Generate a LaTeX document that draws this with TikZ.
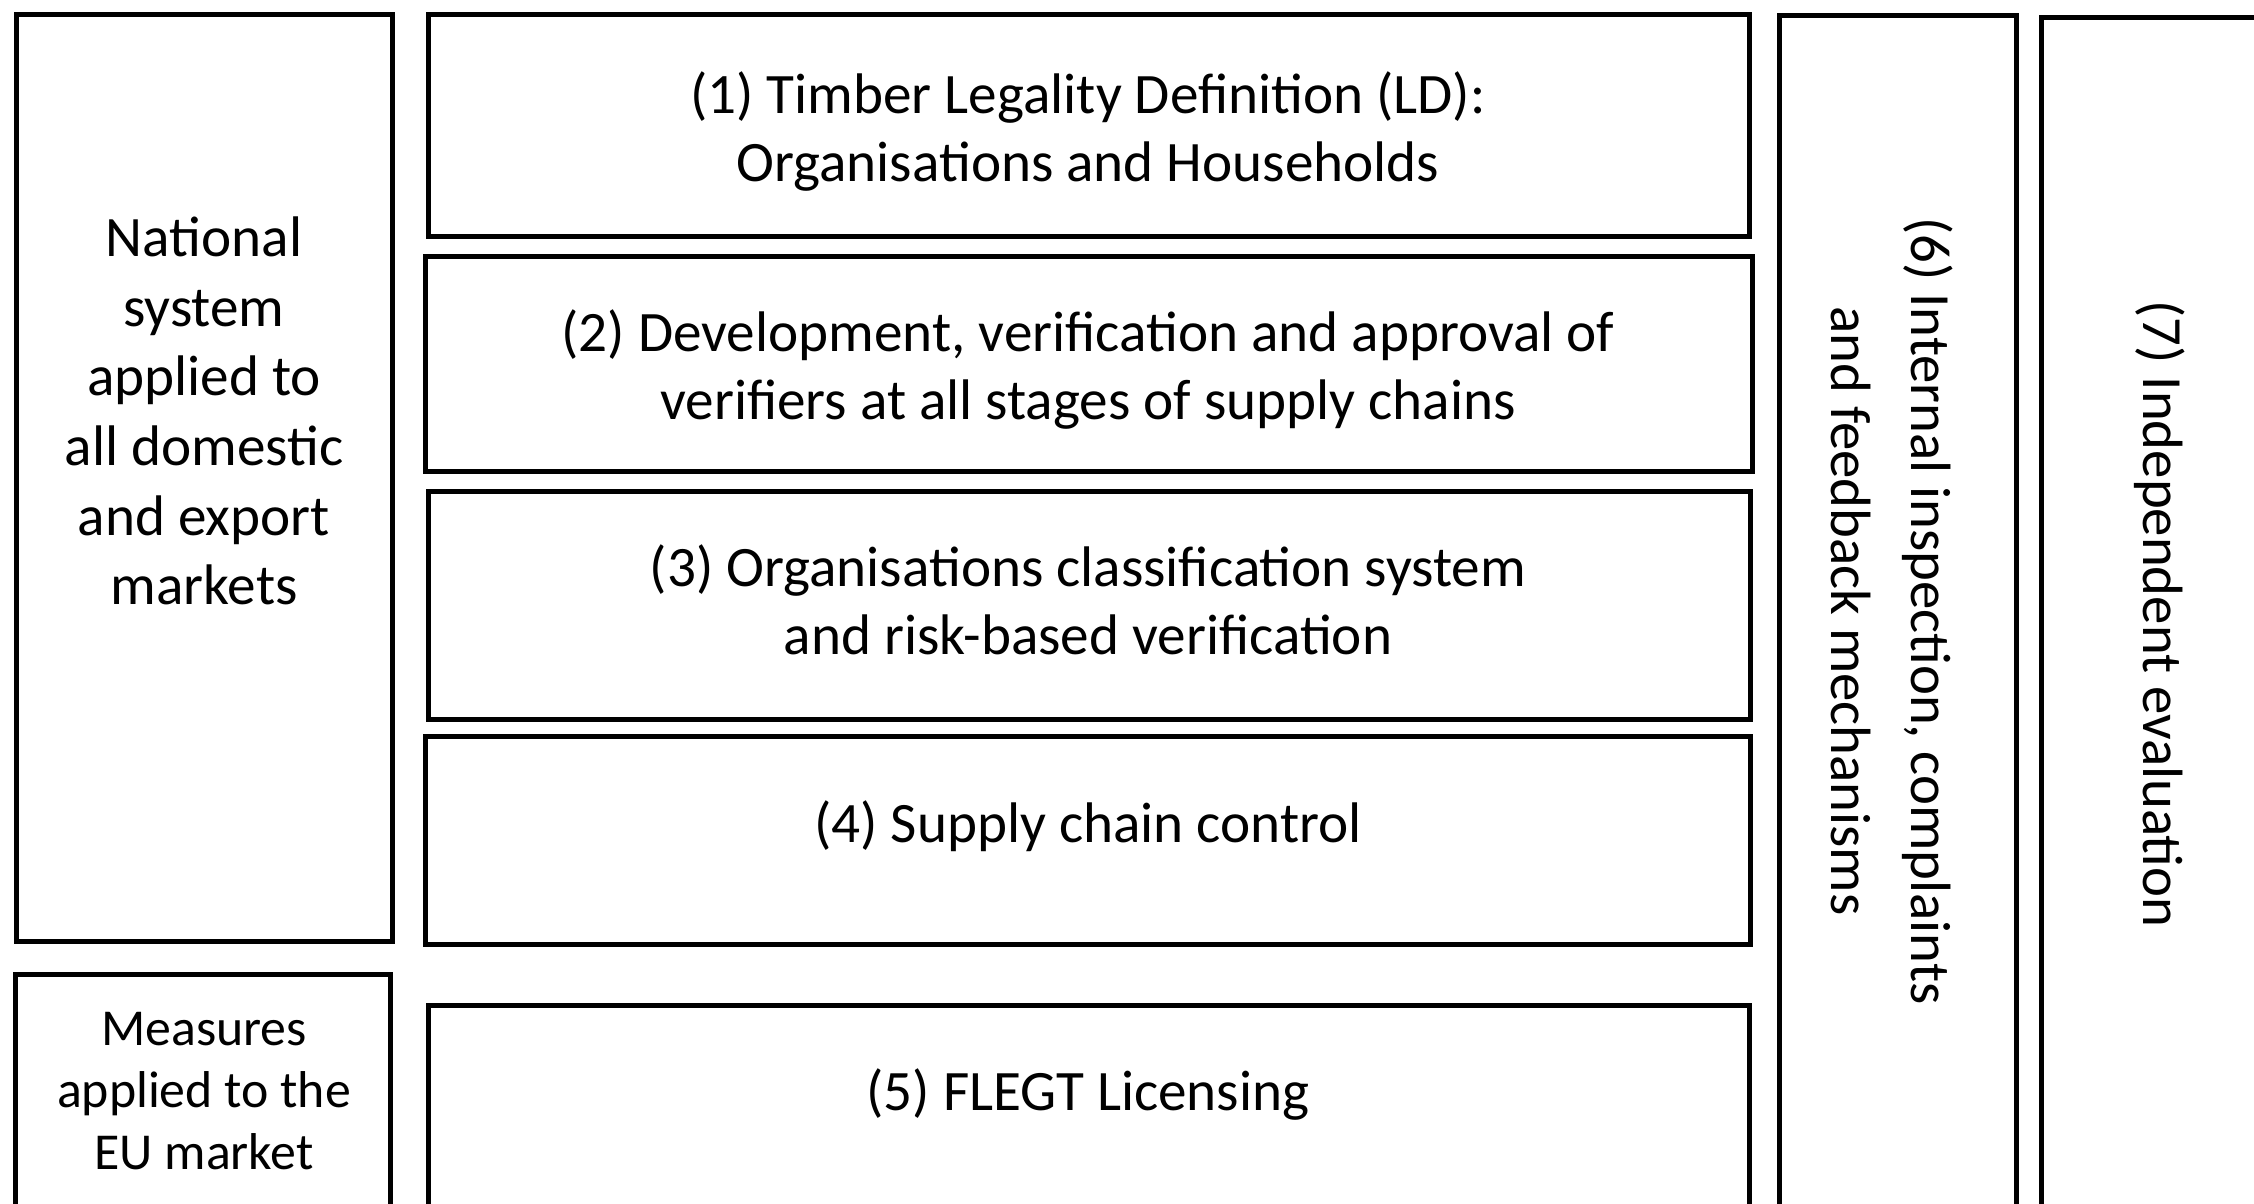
\documentclass[tikz,border=0pt]{standalone}
\usepackage{fontspec}
\setmainfont{Carlito}
\begin{document}
\begin{tikzpicture}[x=0.5pt,y=-0.5pt,
  frame/.style={draw=black,line width=2.5pt},
  txt/.style={align=center,inner sep=0pt,font=\fontsize{28.6}{34}\selectfont},
  small/.style={align=center,inner sep=0pt,font=\fontsize{25.9}{31}\selectfont},
  side/.style={align=center,inner sep=0pt,font=\fontsize{28.6}{34.8}\selectfont},
  vert/.style={align=center,inner sep=0pt,font=\fontsize{28.4}{40}\selectfont,rotate=-90}]
\useasboundingbox (0,0) rectangle (2254,1204);
\clip (0,0) rectangle (2254,1204);
% frames
\draw[frame] (16,15) rectangle (392,941);
\draw[frame] (15,1240) -- (15,974) -- (390,974) -- (390,1240);
\draw[frame] (428,15) rectangle (1749,236);
\draw[frame] (425,256) rectangle (1752,471);
\draw[frame] (428,491) rectangle (1750,719);
\draw[frame] (425,736) rectangle (1750,944);
\draw[frame] (428,1240) -- (428,1005) -- (1749,1005) -- (1749,1240);
\draw[frame] (1779,1240) -- (1779,16) -- (2016,16) -- (2016,1240);
\draw[frame] (2041,1240) -- (2041,18) -- (2300,18);
% texts
\node[side] (tL) at (204,411) {National\\system\\applied to\\all domestic\\and export\\markets};
\node[small] (tM) at (204,1091) {Measures\\applied to the\\EU market};
\node[txt] (t1) at (1088,131) {(1) Timber Legality Definition (LD):\\Organisations and Households};
\node[txt] (t2) at (1088,369) {(2) Development, verification and approval of\\verifiers at all stages of supply chains};
\node[txt] (t3) at (1088,600) {(3) Organisations classification system\\and risk-based verification};
\node[txt] (t4) at (1088,826) {(4) Supply chain control};
\node[txt] (t5) at (1088,1094) {(5) FLEGT Licensing};
\node[vert] (t6) at (1892,611) {(6) Internal inspection, complaints\\and feedback mechanisms};
\node[vert] (t7) at (2160,614) {(7) Independent evaluation};
\end{tikzpicture}
\end{document}
